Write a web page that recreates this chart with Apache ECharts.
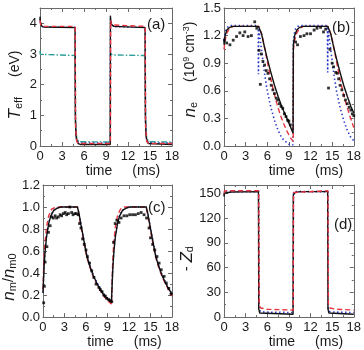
<!DOCTYPE html>
<html><head><meta charset="utf-8">
<script src="https://cdn.jsdelivr.net/npm/echarts@6/dist/echarts.min.js"></script>
<style>html,body{margin:0;padding:0;background:#fff}#c{width:364px;height:350px}</style>
</head><body><div id="c"></div>
<script>
// ---------- shared tick labels ----------
const timeTicks = [0, 3, 6, 9, 12, 15, 18];

// ---------- panel (a): T_eff (eV) ----------
const aBlackT = [0, 0.05, 0.2, 0.5, 4.78, 4.82, 4.9, 5.0, 5.2, 5.5, 9.58, 9.6, 9.65, 9.8, 10.1, 14.33, 14.37, 14.45, 14.55, 14.75, 15.0, 18];
const aBlackV = [4.22, 4.05, 3.92, 3.88, 3.86, 1.0, 0.35, 0.2, 0.08, 0.05, 0.05, 4.25, 4.05, 3.95, 3.9, 3.86, 1.0, 0.35, 0.2, 0.08, 0.05, 0.05];
const aRedT = [0, 0.1, 0.4, 4.8, 4.85, 5.0, 5.3, 9.6, 9.63, 9.75, 10.0, 14.35, 14.4, 14.55, 14.85, 18];
const aRedV = [4.1, 3.95, 3.9, 3.9, 0.6, 0.15, 0.08, 0.08, 4.1, 3.95, 3.9, 3.9, 0.6, 0.15, 0.08, 0.08];
const aBlueT = [0, 0.08, 0.3, 4.79, 4.84, 5.0, 5.3, 9.59, 9.62, 9.75, 10.0, 14.34, 14.39, 14.55, 14.85, 18];
const aBlueV = [4.15, 3.98, 3.89, 3.87, 0.7, 0.18, 0.1, 0.1, 4.15, 3.98, 3.89, 3.87, 0.7, 0.18, 0.1, 0.1];
const aTealT = [0, 0.05, 0.3, 4.8, 4.85, 5.0, 5.3, 9.6, 9.62, 9.9, 14.35, 14.4, 14.55, 14.85, 18];
const aTealV = [3.1, 2.99, 2.97, 2.95, 0.8, 0.25, 0.14, 0.13, 3.02, 2.97, 2.95, 0.8, 0.25, 0.14, 0.13];

// ---------- panel (b): n_e (1e9 cm^-3) ----------
const bBlackT = [0, 0.15, 0.4, 0.8, 1.2, 4.8, 5.2, 5.6, 6.0, 6.5, 7.0, 7.5, 8.0, 8.5, 9.0, 9.58, 9.62, 9.8, 10.1, 10.5, 10.9, 14.4, 14.8, 15.2, 15.6, 16.1, 16.6, 17.1, 17.6, 18];
const bBlackV = [1.1, 1.2, 1.26, 1.29, 1.3, 1.3, 1.22, 1.08, 0.95, 0.8, 0.66, 0.54, 0.43, 0.34, 0.25, 0.14, 1.1, 1.2, 1.26, 1.29, 1.3, 1.3, 1.22, 1.08, 0.95, 0.8, 0.66, 0.54, 0.43, 0.36];
const bRedT = [0, 0.15, 0.4, 0.8, 1.3, 4.85, 5.3, 5.8, 6.3, 6.8, 7.3, 7.8, 8.3, 8.8, 9.3, 9.6, 9.63, 9.8, 10.1, 10.5, 11.0, 14.45, 14.9, 15.4, 15.9, 16.4, 16.9, 17.4, 18];
const bRedV = [1.05, 1.15, 1.23, 1.28, 1.3, 1.3, 1.2, 1.0, 0.8, 0.62, 0.47, 0.34, 0.24, 0.15, 0.08, 0.05, 1.05, 1.15, 1.23, 1.28, 1.3, 1.3, 1.2, 1.0, 0.8, 0.62, 0.47, 0.34, 0.2];
const bBlueT = [0, 0.1, 0.3, 0.6, 1.0, 4.75, 4.78, 4.81, 4.85, 5.2, 5.6, 6.0, 6.5, 7.0, 7.5, 8.0, 8.5, 9.0, 9.55, 9.6, 9.61, 9.7, 9.9, 10.2, 10.6, 14.35, 14.38, 14.41, 14.45, 14.8, 15.2, 15.6, 16.1, 16.6, 17.1, 17.6, 18];
const bBlueV = [1.12, 1.2, 1.27, 1.3, 1.31, 1.31, 0.78, 1.28, 1.26, 1.05, 0.8, 0.6, 0.42, 0.28, 0.17, 0.09, 0.05, 0.02, 0.01, 0.01, 1.12, 1.2, 1.27, 1.3, 1.31, 1.31, 0.8, 1.28, 1.26, 1.05, 0.8, 0.6, 0.42, 0.28, 0.17, 0.09, 0.06];
const bDotT = [0.05, 0.37, 0.82, 1.28, 1.74, 2.2, 2.65, 2.88, 3.34, 3.8, 4.26, 4.55, 4.85, 5.04, 5.17, 5.4, 5.63, 5.86, 6.09, 6.32, 6.55, 6.78, 7.0, 7.24, 7.46, 7.69, 7.92, 8.15, 8.38, 8.6, 8.83, 9.0, 9.2,
  9.93, 10.2, 10.6, 11.1, 11.5, 12.0, 12.5, 12.9, 13.4, 13.8, 14.1, 14.5, 14.7, 15.0, 15.2, 15.5, 15.7, 15.9, 16.1, 16.35, 16.6, 16.85, 17.1, 17.35, 17.6, 17.8, 18.0];
const bDotV = [1.15, 1.12, 1.10, 1.15, 1.19, 1.23, 1.2, 1.24, 1.19, 1.2, 1.35, 1.28, 1.04, 0.67, 1.0, 0.92, 0.88, 0.82, 0.79, 0.73, 0.66, 0.61, 0.57, 0.52, 0.5, 0.46, 0.43, 0.41, 0.35, 0.32, 0.28, 0.27, 0.23,
  1.13, 1.1, 1.19, 1.2, 1.22, 1.22, 1.26, 1.28, 1.29, 1.24, 1.27, 0.63, 1.05, 0.9, 0.86, 0.8, 0.79, 0.73, 0.66, 0.61, 0.55, 0.5, 0.46, 0.42, 0.39, 0.35, 0.33];

// ---------- panel (c): n_m / n_m0 ----------
const cBlackT = [0, 0.15, 0.3, 0.5, 0.8, 1.1, 1.5, 2.0, 2.5, 4.8, 5.0, 5.3, 5.7, 6.1, 6.5, 7.0, 7.5, 8.0, 8.5, 9.0, 9.55, 9.6, 9.75, 9.9, 10.1, 10.4, 10.7, 11.1, 11.6, 12.1, 14.4, 14.6, 14.9, 15.3, 15.7, 16.1, 16.6, 17.1, 17.6, 18];
const cBlackV = [0.22, 0.45, 0.6, 0.73, 0.85, 0.92, 0.97, 0.99, 1.0, 1.0, 0.95, 0.84, 0.7, 0.56, 0.47, 0.38, 0.31, 0.25, 0.2, 0.165, 0.135, 0.14, 0.45, 0.6, 0.73, 0.85, 0.92, 0.97, 0.99, 1.0, 1.0, 0.95, 0.84, 0.7, 0.56, 0.47, 0.38, 0.31, 0.25, 0.21];
const cRedT = [0, 0.1, 0.25, 0.5, 0.8, 1.2, 1.8, 4.8, 5.0, 5.3, 5.7, 6.1, 6.5, 7.0, 7.5, 8.0, 8.5, 9.0, 9.55, 9.6, 9.7, 9.85, 10.1, 10.4, 10.8, 11.4, 14.4, 14.6, 14.9, 15.3, 15.7, 16.1, 16.6, 17.1, 17.6, 18];
const cRedV = [0.25, 0.45, 0.65, 0.82, 0.92, 0.98, 1.0, 1.0, 0.93, 0.82, 0.68, 0.55, 0.46, 0.37, 0.3, 0.24, 0.19, 0.15, 0.12, 0.13, 0.45, 0.65, 0.82, 0.92, 0.98, 1.0, 1.0, 0.93, 0.82, 0.68, 0.55, 0.46, 0.37, 0.3, 0.24, 0.19];
const cBlueT = [0, 0.15, 0.3, 0.5, 0.8, 1.1, 1.5, 2.0, 2.5, 4.8, 5.0, 5.3, 5.7, 6.1, 6.5, 7.0, 7.5, 8.0, 8.5, 9.0, 9.55, 9.6, 9.75, 9.9, 10.1, 10.4, 10.7, 11.1, 11.6, 12.1, 14.4, 14.6, 14.9, 15.3, 15.7, 16.1, 16.6, 17.1, 17.6, 18];
const cBlueV = [0.22, 0.46, 0.61, 0.74, 0.86, 0.93, 0.97, 0.99, 1.0, 1.0, 0.95, 0.85, 0.71, 0.57, 0.48, 0.39, 0.32, 0.26, 0.21, 0.17, 0.14, 0.14, 0.46, 0.61, 0.74, 0.86, 0.93, 0.97, 0.99, 1.0, 1.0, 0.95, 0.85, 0.71, 0.57, 0.48, 0.39, 0.32, 0.26, 0.21];
const cDotT = [0.1, 0.2, 0.3, 0.55, 0.77, 1.0, 1.22, 1.45, 1.7, 1.9, 2.15, 2.4, 2.6, 2.85, 3.1, 3.3, 3.55, 3.75, 4.0, 4.2, 4.45, 4.65, 4.9, 5.1, 5.3, 5.53, 5.76, 6.0, 6.2, 6.5, 6.8, 7.1, 7.4, 7.8, 8.0, 8.25, 8.5, 8.7, 8.9, 9.15, 9.4, 9.6,
  9.84, 10.07, 10.3, 10.6, 10.9, 11.3, 11.7, 12.1, 12.5, 12.9, 13.3, 13.7, 14.1, 14.45, 14.8, 15.0, 15.3, 15.6, 15.9, 16.2, 16.5, 16.9, 17.2, 17.55, 17.87];
const cDotV = [0.13, 0.28, 0.5, 0.64, 0.77, 0.83, 0.91, 0.9, 0.92, 0.9, 0.91, 0.93, 0.92, 0.94, 0.95, 0.93, 0.94, 1.0, 0.95, 0.93, 0.94, 0.94, 0.93, 0.85, 0.81, 0.71, 0.66, 0.61, 0.55, 0.49, 0.42, 0.36, 0.3, 0.27, 0.25, 0.23, 0.2, 0.19, 0.17, 0.16, 0.15, 0.14,
  0.68, 0.85, 0.88, 0.86, 0.9, 0.92, 0.92, 0.93, 0.93, 0.93, 0.94, 0.95, 0.93, 0.9, 0.81, 0.72, 0.66, 0.61, 0.55, 0.49, 0.43, 0.37, 0.31, 0.26, 0.21];

// ---------- panel (d): -Z_d ----------
const dBlackT = [0, 0.05, 0.3, 1.0, 4.78, 4.82, 4.95, 5.2, 9.58, 9.62, 9.9, 10.6, 14.38, 14.42, 14.55, 14.8, 18];
const dBlackV = [146, 150, 151, 151.5, 152, 10, 5, 4, 3.5, 148, 151, 152, 152, 10, 5, 4, 3.5];
const dRedT = [0, 0.05, 0.4, 4.82, 4.88, 5.1, 6.0, 9.6, 9.64, 9.9, 14.42, 14.48, 14.7, 15.6, 18];
const dRedV = [150, 152.5, 153, 153, 14, 11, 9.5, 8.5, 151, 153, 153, 14, 11, 9.5, 8.5];
const dBlueT = [0, 0.05, 0.4, 4.8, 4.86, 5.1, 6.0, 9.59, 9.63, 9.9, 14.4, 14.46, 14.7, 15.6, 18];
const dBlueV = [148, 151, 152, 152, 9, 6.5, 6, 5.5, 149, 152, 152, 9, 6.5, 6, 5.5];

// ---------- y tick settings ----------
const yMax = [4.5, 1.5, 1.2, 160];
const yStep = [1, 0.3, 0.2, 30];
const panelTags = ['(a)', '(b)', '(c)', '(d)'];

// ================= build =================
const zip = (t, v) => t.map((x, i) => [x, v[i]]);
const FONT = '"Liberation Sans", Arial, sans-serif';
const AX = '#6a6a6a', TX = '#1a1a1a';
const grids = [
  {left: 40, top: 8, width: 132, height: 138},
  {left: 224, top: 8, width: 131, height: 138},
  {left: 40, top: 185, width: 132, height: 136},
  {left: 224, top: 185, width: 131, height: 137}
];
const baseRich = {
  it: {fontStyle: 'italic', fontSize: 17, fontFamily: FONT, color: TX},
  sub: {fontSize: 11, fontFamily: FONT, color: TX, verticalAlign: 'bottom'},
  sup: {fontSize: 9, fontFamily: FONT, color: TX, verticalAlign: 'top'},
  n: {fontSize: 14, fontFamily: FONT, color: TX},
  sp: {width: 20}
};
const yNames = [
  {name: '{it|T}{sub|eff}{sp|}{n|(eV)}', gap: 16, pad: [0, 16, 0, 0]},
  {name: '{it|n}{sub|e}{sp|}{n|(10}{sup|9}{n| cm}{sup|-3}{n|)}', gap: 20, pad: [0, 0, 0, 15]},
  {name: '{it|n}{sub|m}{n|/}{it|n}{sub|m0}', gap: 16, pad: [0, 52, 0, 0]},
  {name: '{n|- }{it|Z}{sub|d}', gap: 19, pad: [0, 15, 0, 0]}
];
const xAxes = [], yAxes = [];
grids.forEach((g, i) => {
  const common = {
    type: 'value', gridIndex: i, min: 0, max: 18, interval: 3,
    axisLine: {show: true, onZero: false, lineStyle: {color: AX, width: 1}},
    axisTick: {show: true, inside: true, length: 4, lineStyle: {color: AX}},
    minorTick: {show: true, splitNumber: 2, length: 2, lineStyle: {color: AX}},
    splitLine: {show: false}
  };
  xAxes.push(Object.assign({}, common, {
    position: 'bottom',
    axisLabel: {fontSize: 13, color: TX, fontFamily: FONT, margin: 4,
      formatter: v => (timeTicks.indexOf(v) >= 0 ? String(v) : '')},
    name: '{a|time}{s|}{a|(ms)}', nameLocation: 'middle', nameGap: 15,
    nameTextStyle: {padding: [0, 0, 0, 34],
      rich: {a: {fontSize: 14, fontFamily: FONT, color: TX}, s: {width: 20}}}
  }));
  xAxes.push(Object.assign({}, common, {position: 'top', axisLabel: {show: false}}));
  const yc = {
    type: 'value', gridIndex: i, min: 0, max: yMax[i], interval: yStep[i],
    axisLine: {show: true, onZero: false, lineStyle: {color: AX, width: 1}},
    axisTick: {show: true, inside: true, length: 4, lineStyle: {color: AX}},
    minorTick: {show: true, splitNumber: 2, length: 2, lineStyle: {color: AX}},
    splitLine: {show: false}
  };
  yAxes.push(Object.assign({}, yc, {
    position: 'left',
    axisLabel: {fontSize: 13, color: TX, fontFamily: FONT, margin: 3, showMaxLabel: (i === 1 || i === 2),
      formatter: v => (i === 1 || i === 2 ? v.toFixed(1) : String(v))},
    name: yNames[i].name, nameLocation: 'middle', nameRotate: 90, nameGap: yNames[i].gap,
    nameTextStyle: {padding: yNames[i].pad, rich: baseRich}
  }));
  yAxes.push(Object.assign({}, yc, {position: 'right', axisLabel: {show: false}}));
});

const RED = '#e8343f', BLUE = '#2436c8', TEAL = '#2a9e98', BLK = '#111';
function line(i, data, color, type, w) {
  return {type: 'line', xAxisIndex: 2 * i, yAxisIndex: 2 * i, data: data, showSymbol: false, symbol: 'none',
    lineStyle: {color: color, width: w || 1.4, type: type || 'solid'}, z: 3};
}
function dots(i, data) {
  return {type: 'scatter', xAxisIndex: 2 * i, yAxisIndex: 2 * i, data: data, symbol: 'rect', symbolSize: 2.8,
    itemStyle: {color: '#000'}, z: 4};
}
const DASH = [5, 3], DOT = [1.4, 2.6], DASHDOT = [6, 2, 1.5, 2];
const series = [
  line(0, zip(aTealT, aTealV), TEAL, DASHDOT),
  line(0, zip(aBlueT, aBlueV), BLUE, DOT),
  line(0, zip(aBlackT, aBlackV), BLK),
  line(0, zip(aRedT, aRedV), RED, DASH),
  line(1, zip(bBlueT, bBlueV), BLUE, DOT, 1.6),
  line(1, zip(bRedT, bRedV), RED, DASH),
  line(1, zip(bBlackT, bBlackV), BLK),
  dots(1, zip(bDotT, bDotV)),
  line(2, zip(cBlueT, cBlueV), BLUE, DOT),
  line(2, zip(cRedT, cRedV), RED, DASH),
  line(2, zip(cBlackT, cBlackV), BLK),
  dots(2, zip(cDotT, cDotV)),
  line(3, zip(dBlueT, dBlueV), BLUE, DOT, 1.6),
  line(3, zip(dBlackT, dBlackV), BLK),
  line(3, zip(dRedT, dRedV), RED, DASH)
];
const tagPos = [[167, 25], [352, 28], [168, 208], [354, 225]];
const graphic = panelTags.map((t, i) => ({
  type: 'text', left: tagPos[i][0] - 20, top: tagPos[i][1] - 8,
  style: {text: t, fontSize: 15, fontFamily: FONT, fill: TX, width: 20, align: 'right'}
}));

const chart = echarts.init(document.getElementById('c'), null, {renderer: 'canvas'});
chart.setOption({
  animation: false,
  backgroundColor: '#fff',
  grid: grids,
  xAxis: xAxes,
  yAxis: yAxes,
  series: series,
  graphic: graphic
});
</script></body></html>
